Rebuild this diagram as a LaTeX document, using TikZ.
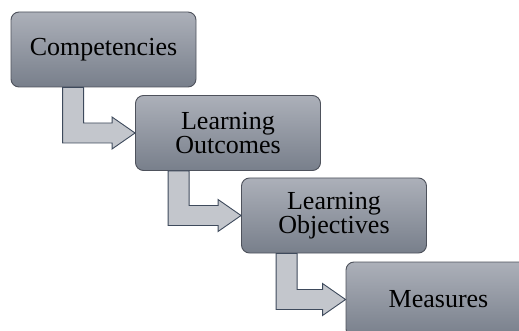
\documentclass[tikz,border=0pt]{standalone}
\usepackage{fontspec}
\setmainfont{Liberation Serif}
\usetikzlibrary{calc}
\definecolor{boxtop}{RGB}{172,176,185}
\definecolor{boxbot}{RGB}{120,127,139}
\definecolor{boxline}{RGB}{78,82,92}
\definecolor{arrfill}{RGB}{195,198,204}
\definecolor{arrline}{RGB}{62,74,92}
\tikzset{
  stepbox/.style={rectangle, rounded corners=8pt, minimum width=185pt, minimum height=75pt,
    top color=boxtop, bottom color=boxbot, draw=boxline, line width=0.9pt,
    align=center, font=\fontsize{26}{24}\selectfont, inner sep=0pt},
  blockarr/.style={fill=arrfill, draw=arrline, line width=0.9pt, line join=miter}
}
\newcommand{\blockarrow}[3]{%
  \draw[blockarr] let \p1=(#1.south west), \p2=(#2.west) in
    (\x1+#3,\y1) -- (\x1+#3+21pt,\y1) -- (\x1+#3+21pt,\y2+10pt) -- (\x2-23pt,\y2+10pt)
    -- (\x2-23pt,\y2+16pt) -- (\p2) -- (\x2-23pt,\y2-16pt) -- (\x2-23pt,\y2-10pt)
    -- (\x1+#3,\y2-10pt) -- cycle;}
\begin{document}
\begin{tikzpicture}[x=1pt,y=1pt]
\useasboundingbox (0,0) rectangle (519,-331);
\clip (0,0) rectangle (519,-331);
\node[stepbox] (b1) at (103.5,-49.5) {Competencies};
\node[stepbox] (b2) at (228,-133) {Learning\\Outcomes};
\node[stepbox] (b3) at (334,-215.5) {Learning\\Objectives};
\node[stepbox] (b4) at (438.5,-299.5) {Measures};
\blockarrow{b1}{b2}{52pt}
\blockarrow{b2}{b3}{33pt}
\blockarrow{b3}{b4}{35pt}
\end{tikzpicture}
\end{document}
